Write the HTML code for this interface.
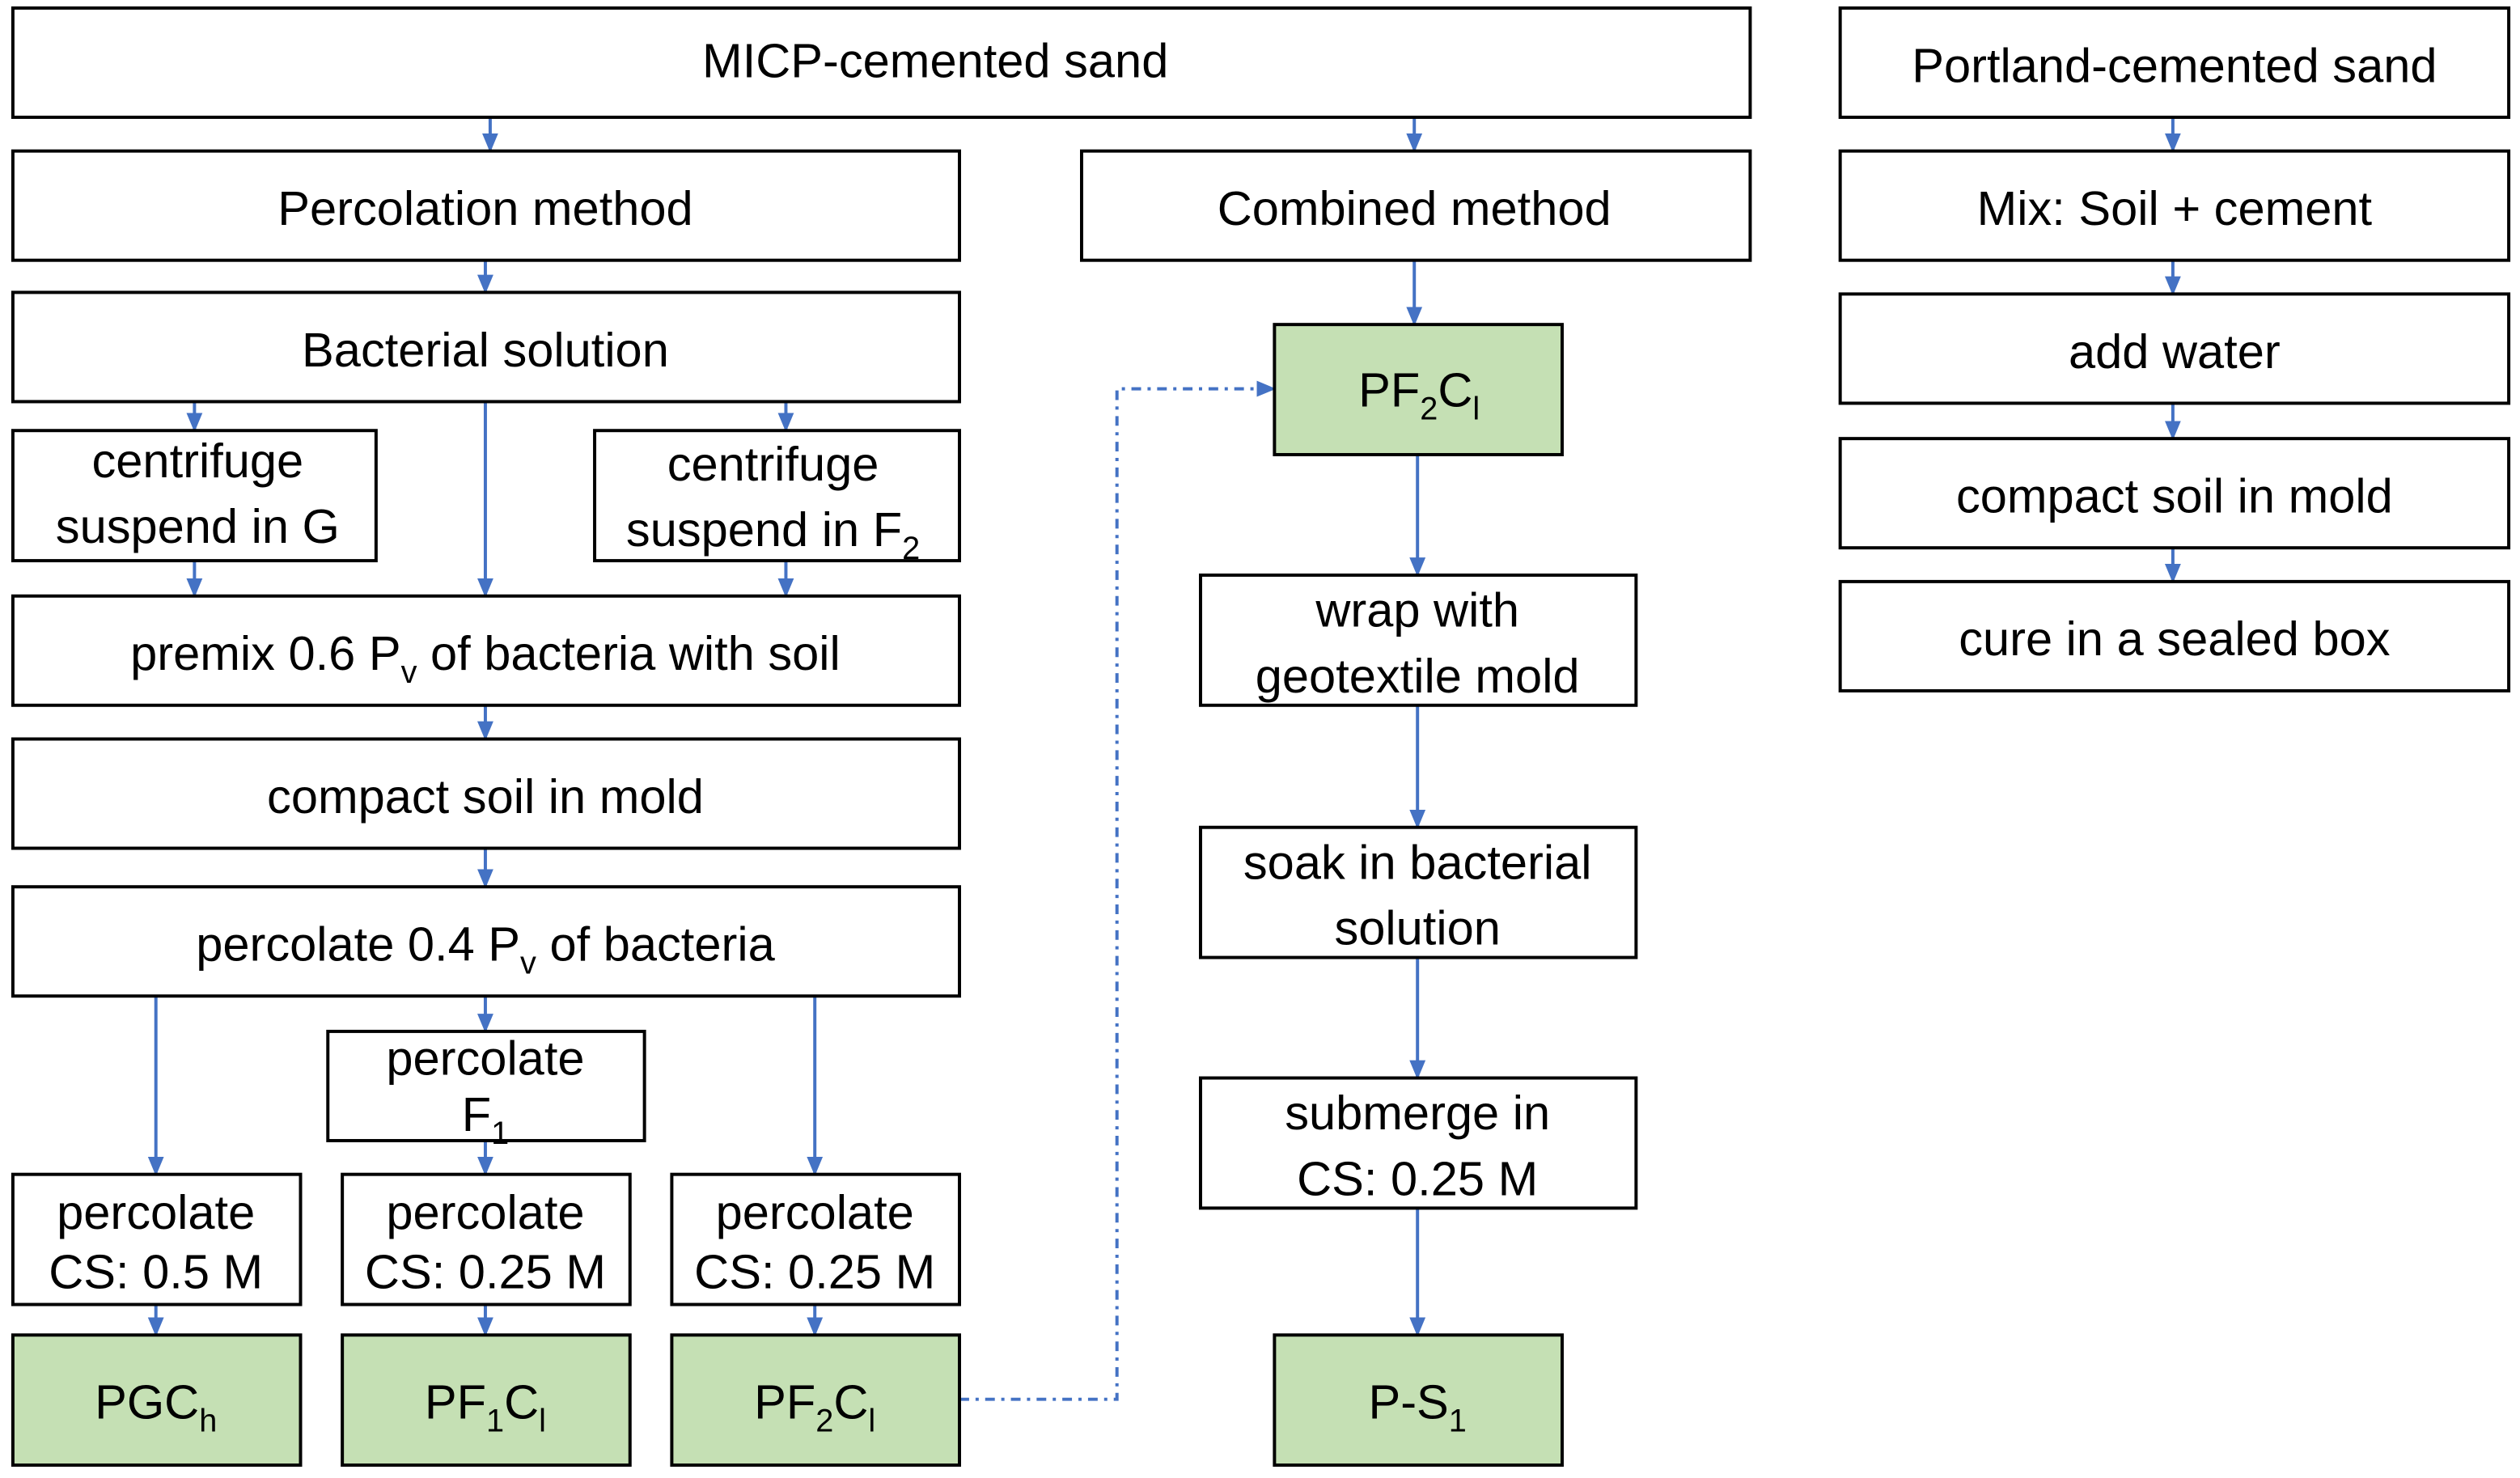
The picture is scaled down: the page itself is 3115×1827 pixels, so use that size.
<!DOCTYPE html>
<html><head><meta charset="utf-8"><style>
html,body{margin:0;padding:0;background:#fff;width:3115px;height:1827px;overflow:hidden}
svg{display:block}
text{font-family:"Liberation Sans",sans-serif;font-size:30px;fill:#000;text-anchor:middle}
.b{fill:#fff;stroke:#000;stroke-width:2}
.g{fill:#c5e0b4;stroke:#000;stroke-width:2}
.l{stroke:#4472c4;stroke-width:2;fill:none}
</style></head><body>
<svg width="3115" height="1827" viewBox="0 0 1568 920" preserveAspectRatio="none">
<defs><marker id="a" markerWidth="12" markerHeight="12" refX="11" refY="6" orient="auto" markerUnits="userSpaceOnUse"><path d="M0,1 L12,6 L0,11 z" fill="#4472c4"/></marker></defs>
<g class="l" marker-end="url(#a)">
<path d="M305,73V94"/><path d="M880,73V94"/><path d="M1352,73V94"/>
<path d="M302,162V182"/><path d="M880,162V202"/><path d="M1352,162V183"/>
<path d="M1352,251V273"/><path d="M1352,341V362"/>
<path d="M121,250V268"/><path d="M302,250V371"/><path d="M489,250V268"/>
<path d="M121,349V371"/><path d="M489,349V371"/>
<path d="M302,439V460"/><path d="M302,528V552"/><path d="M302,620V642"/>
<path d="M97,620V731"/><path d="M507,620V731"/><path d="M302,710V731"/>
<path d="M97,812V831"/><path d="M302,812V831"/><path d="M507,812V831"/>
<path d="M882,283V358"/><path d="M882,439V515"/><path d="M882,596V671"/><path d="M882,752V831"/>
<path d="M597,871H695V242H793" stroke-dasharray="6,4,2,4"/>
</g>
<rect class="b" x="8" y="5" width="1081" height="68"/><text x="582" y="48">MICP-cemented sand</text>
<rect class="b" x="1145" y="5" width="416" height="68"/><text x="1353" y="51">Portland-cemented sand</text>
<rect class="b" x="8" y="94" width="589" height="68"/><text x="302" y="140">Percolation method</text>
<rect class="b" x="673" y="94" width="416" height="68"/><text x="880" y="140">Combined method</text>
<rect class="b" x="1145" y="94" width="416" height="68"/><text x="1353" y="140">Mix: Soil + cement</text>
<rect class="b" x="8" y="182" width="589" height="68"/><text x="302" y="228">Bacterial solution</text>
<rect class="b" x="1145" y="183" width="416" height="68"/><text x="1353" y="229">add water</text>
<rect class="b" x="8" y="268" width="226" height="81"/><text x="123" y="297">centrifuge</text><text x="123" y="338">suspend in G</text>
<rect class="b" x="370" y="268" width="227" height="81"/><text x="481" y="299">centrifuge</text><text x="481" y="340">suspend in F<tspan font-size="20" dy="8">2</tspan></text>
<rect class="b" x="1145" y="273" width="416" height="68"/><text x="1353" y="319">compact soil in mold</text>
<rect class="b" x="1145" y="362" width="416" height="68"/><text x="1353" y="408">cure in a sealed box</text>
<rect class="g" x="793" y="202" width="179" height="81"/><text x="883" y="253">PF<tspan font-size="20" dy="8">2</tspan><tspan dy="-8">C</tspan><tspan font-size="20" dy="8">l</tspan></text>
<rect class="b" x="8" y="371" width="589" height="68"/><text x="302" y="417">premix 0.6 P<tspan font-size="20" dy="8">v</tspan><tspan dy="-8"> of bacteria with soil</tspan></text>
<rect class="b" x="747" y="358" width="271" height="81"/><text x="882" y="390">wrap with</text><text x="882" y="431">geotextile mold</text>
<rect class="b" x="8" y="460" width="589" height="68"/><text x="302" y="506">compact soil in mold</text>
<rect class="b" x="747" y="515" width="271" height="81"/><text x="882" y="547">soak in bacterial</text><text x="882" y="588">solution</text>
<rect class="b" x="8" y="552" width="589" height="68"/><text x="302" y="598">percolate 0.4 P<tspan font-size="20" dy="8">v</tspan><tspan dy="-8"> of bacteria</tspan></text>
<rect class="b" x="204" y="642" width="197" height="68"/><text x="302" y="669">percolate</text><text x="302" y="704">F<tspan font-size="20" dy="8">1</tspan></text>
<rect class="b" x="747" y="671" width="271" height="81"/><text x="882" y="703">submerge in</text><text x="882" y="744">CS: 0.25 M</text>
<rect class="b" x="8" y="731" width="179" height="81"/><text x="97" y="765">percolate</text><text x="97" y="802">CS: 0.5 M</text>
<rect class="b" x="213" y="731" width="179" height="81"/><text x="302" y="765">percolate</text><text x="302" y="802">CS: 0.25 M</text>
<rect class="b" x="418" y="731" width="179" height="81"/><text x="507" y="765">percolate</text><text x="507" y="802">CS: 0.25 M</text>
<rect class="g" x="8" y="831" width="179" height="81"/><text x="97" y="883">PGC<tspan font-size="20" dy="8">h</tspan></text>
<rect class="g" x="213" y="831" width="179" height="81"/><text x="302" y="883">PF<tspan font-size="20" dy="8">1</tspan><tspan dy="-8">C</tspan><tspan font-size="20" dy="8">l</tspan></text>
<rect class="g" x="418" y="831" width="179" height="81"/><text x="507" y="883">PF<tspan font-size="20" dy="8">2</tspan><tspan dy="-8">C</tspan><tspan font-size="20" dy="8">l</tspan></text>
<rect class="g" x="793" y="831" width="179" height="81"/><text x="882" y="883">P-S<tspan font-size="20" dy="8">1</tspan></text>
</svg>
</body></html>
